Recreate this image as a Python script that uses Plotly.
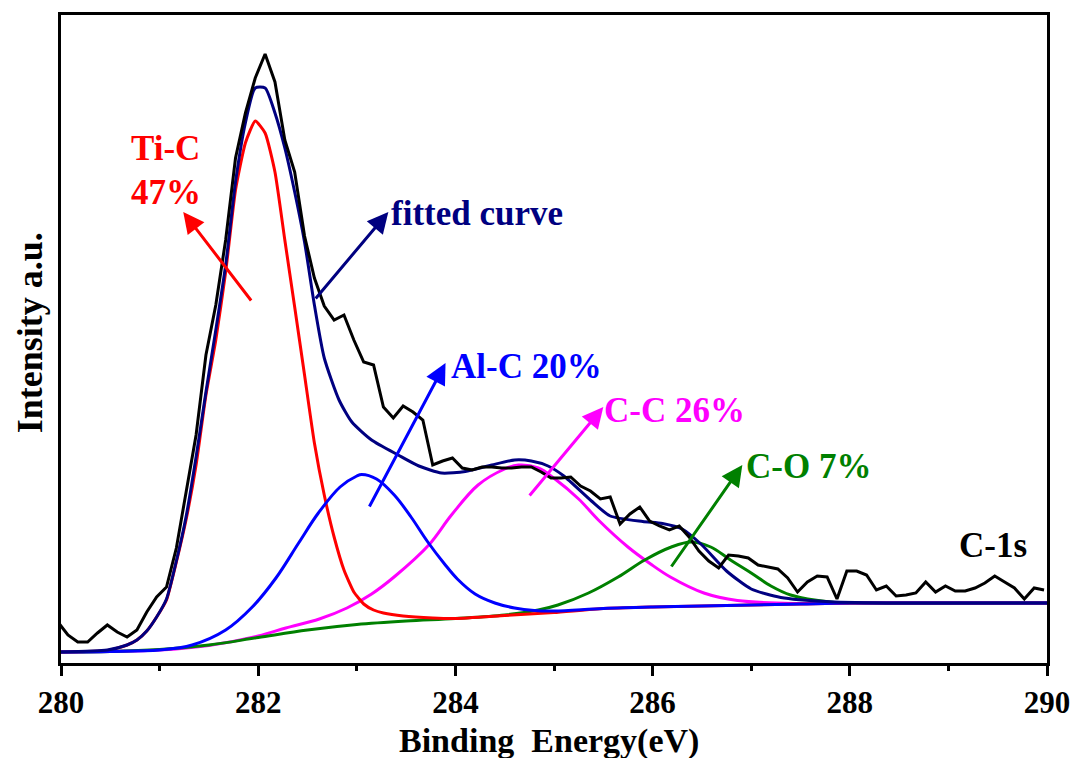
import plotly.graph_objects as go

# ---------------- data (binding energy in eV, intensity in a.u.) ----------------
raw_energy = [279.97, 280.07, 280.17, 280.27, 280.37, 280.47, 280.57, 280.67, 280.77, 280.87,
              280.97, 281.07, 281.17, 281.27, 281.37, 281.47, 281.57, 281.67, 281.77, 281.87,
              281.97, 282.07, 282.17, 282.27, 282.37, 282.47, 282.57, 282.67, 282.77, 282.87,
              282.97, 283.07, 283.17, 283.27, 283.37, 283.47, 283.57, 283.67, 283.77, 283.87,
              283.97, 284.07, 284.17, 284.27, 284.37, 284.47, 284.57, 284.67, 284.77, 284.87,
              284.97, 285.07, 285.17, 285.27, 285.37, 285.47, 285.57, 285.67, 285.77, 285.87,
              285.97, 286.07, 286.17, 286.27, 286.37, 286.47, 286.57, 286.67, 286.77, 286.87,
              286.97, 287.07, 287.17, 287.27, 287.37, 287.47, 287.57, 287.67, 287.77, 287.87,
              287.97, 288.07, 288.17, 288.27, 288.37, 288.47, 288.57, 288.67, 288.77, 288.87,
              288.97, 289.07, 289.17, 289.27, 289.37, 289.47, 289.57, 289.67, 289.77, 289.87,
              289.97]
raw_intensity = [41, 28, 21, 21, 30, 38, 31, 26, 33, 51,
                 66, 76, 115, 173, 228, 308, 358, 423, 505, 550,
                 585, 609, 581, 523, 491, 427, 385, 357, 343, 348,
                 323, 301, 298, 256, 245, 257, 251, 243, 198, 202,
                 205, 195, 193, 196, 196, 195, 195, 196, 196, 191,
                 185, 185, 186, 177, 172, 164, 166, 139, 149, 156,
                 142, 137, 133, 137, 126, 112, 102, 95, 108, 107,
                 105, 98, 96, 94, 85, 71, 81, 87, 86, 64,
                 92, 92, 88, 73, 77, 67, 68, 70, 81, 71,
                 77, 72, 72, 75, 80, 87, 81, 75, 64, 75,
                 73]

tic_energy = [279.97, 280.47, 280.67, 280.77, 280.87, 280.97, 281.07, 281.17, 281.27, 281.37,
              281.47, 281.57, 281.67, 281.77, 281.87, 281.97, 282.07, 282.17, 282.27, 282.37,
              282.47, 282.57, 282.67, 282.77, 282.87, 282.97, 283.07, 283.17, 283.27, 283.47,
              283.77, 284.0, 284.5, 285.0, 285.5, 286.0, 286.5, 287.0, 287.5, 288.0, 289.0, 290.0]
tic_intensity = [11, 12.5, 18, 23, 32, 46, 63, 101, 144, 198,
                 268, 323, 391, 473, 520, 542, 530, 491, 423, 356,
                 288, 220, 168, 126, 93, 71, 59, 53, 50, 47,
                 45, 44.5, 47.5, 50.5, 54.5, 56, 57, 58, 59, 60, 60, 60]

alc_energy = [280.0, 280.5, 281.0, 281.33, 281.67, 281.94, 282.18, 282.41, 282.61, 282.83,
              283.0, 283.05, 283.2, 283.38, 283.55, 283.72, 283.89, 284.02, 284.2, 284.4,
              284.6, 284.8, 285.0, 285.5, 286.0, 286.5, 287.0, 287.5, 288.0, 290.0]
alc_intensity = [11, 11.5, 13, 18, 33, 56, 85, 120, 150, 176,
                 187, 188.5, 184, 168, 146, 121, 99, 84, 69, 60,
                 55, 52.5, 52, 54.5, 56, 57, 58, 59, 60, 60]

cc_energy = [280.0, 281.0, 281.5, 282.0, 282.28, 282.62, 282.9, 283.15, 283.39, 283.73,
             283.96, 284.23, 284.5, 284.64, 284.84, 285.01, 285.25, 285.45, 285.75, 285.98,
             286.18, 286.52, 286.86, 287.47, 288.0, 290.0]
cc_intensity = [11, 13, 17.5, 27, 35, 44, 55, 69, 87, 118,
                148, 178, 194, 198, 195, 184, 164, 143, 116, 99,
                86, 70, 62.5, 59.5, 60, 60]

co_energy = [280.0, 280.5, 281.0, 281.5, 282.0, 282.5, 283.0, 283.5, 284.0, 284.5,
             284.84, 285.04, 285.35, 285.65, 285.92, 286.19, 286.39, 286.59, 286.79, 287.0,
             287.2, 287.4, 287.8, 288.2, 290.0]
co_intensity = [11, 11.5, 13.5, 18, 25.5, 33, 38.5, 42, 44.5, 48,
                53, 58, 70, 86, 103, 116, 121, 116, 103, 90,
                77, 68, 61, 60, 60]

fit_energy = [279.97, 280.47, 280.67, 280.77, 280.87, 280.97, 281.07, 281.17, 281.27, 281.37,
              281.47, 281.57, 281.67, 281.77, 281.87, 281.97, 282.07, 282.17, 282.27, 282.37,
              282.47, 282.57, 282.67, 282.82, 282.95, 283.15, 283.42, 283.63, 283.86, 284.1,
              284.37, 284.6, 284.77, 284.94, 285.1, 285.38, 285.57, 285.9, 286.1, 286.3,
              286.5, 286.75, 287.0, 287.3, 287.8, 288.5, 290.0]
fit_intensity = [11, 13, 18, 23, 32, 46, 64, 102, 147, 206,
                 271, 333, 398, 481, 540, 575, 575, 550, 515, 471,
                 421, 358, 305, 263, 241, 223, 208, 197, 190, 191.5,
                 198, 203, 202, 197, 187, 162, 147, 141.5, 139.5, 134,
                 118, 92, 74, 65.5, 61.3, 60, 60]

x_ticks = [280, 282, 284, 286, 288, 290]

# labels: (text, x, y, colour) ; arrows: (tail x, tail y, tip x, tip y, colour)
label_texts = ["Ti-C", "47%", "fitted curve", "Al-C 20%", "C-C 26%", "C-O 7%", "C-1s"]
label_x = [280.69, 280.69, 283.33, 283.93, 285.49, 286.93, 289.09]
label_y = [515, 471, 450, 297, 253, 197, 118]
label_colors = ["#FF0000", "#FF0000", "#000080", "#0000FF", "#FF00FF", "#008000", "#000000"]

arrow_tail_x = [281.94, 282.57, 283.12, 284.74, 286.18]
arrow_tail_y = [361, 363, 155, 166, 95]
arrow_tip_x = [281.24, 283.32, 283.90, 285.50, 286.91]
arrow_tip_y = [451, 451, 300, 256, 198]
arrow_colors = ["#FF0000", "#000080", "#0000FF", "#FF00FF", "#008000"]

FONT = "Liberation Serif"

fig = go.Figure()
# drawing order: C-C, C-O, Ti-C, Al-C, fit, raw
fig.add_trace(go.Scatter(x=cc_energy, y=cc_intensity, mode="lines",
                         line=dict(color="#FF00FF", width=3, shape="spline", smoothing=1.0)))
fig.add_trace(go.Scatter(x=co_energy, y=co_intensity, mode="lines",
                         line=dict(color="#008000", width=3, shape="spline", smoothing=1.0)))
fig.add_trace(go.Scatter(x=tic_energy, y=tic_intensity, mode="lines",
                         line=dict(color="#FF0000", width=3, shape="spline", smoothing=0.5)))
fig.add_trace(go.Scatter(x=alc_energy, y=alc_intensity, mode="lines",
                         line=dict(color="#0000FF", width=3, shape="spline", smoothing=1.0)))
fig.add_trace(go.Scatter(x=fit_energy, y=fit_intensity, mode="lines",
                         line=dict(color="#000080", width=3, shape="spline", smoothing=0.6)))
fig.add_trace(go.Scatter(x=raw_energy, y=raw_intensity, mode="lines",
                         line=dict(color="#000000", width=3)))

annotations = []
for t, x, y, c in zip(label_texts, label_x, label_y, label_colors):
    annotations.append(dict(text=t, x=x, y=y, xref="x", yref="y", showarrow=False,
                            xanchor="left", yanchor="middle",
                            font=dict(family=FONT, size=35, color=c, weight="bold")))
for tx, ty, hx, hy, c in zip(arrow_tail_x, arrow_tail_y, arrow_tip_x, arrow_tip_y, arrow_colors):
    annotations.append(dict(text="", x=hx, y=hy, xref="x", yref="y",
                            ax=tx, ay=ty, axref="x", ayref="y",
                            showarrow=True, arrowhead=2, arrowsize=1.4, arrowwidth=3,
                            arrowcolor=c, standoff=0, startstandoff=0))
annotations.append(dict(text="Intensity a.u.", x=-0.0313, y=0.509, xref="paper", yref="paper",
                        textangle=-90, showarrow=False, xanchor="center", yanchor="middle",
                        font=dict(family=FONT, size=36, color="black", weight="bold")))
annotations.append(dict(text="Binding\u00a0\u00a0Energy(eV)", x=0.495, y=-0.1205,
                        xref="paper", yref="paper", showarrow=False,
                        xanchor="center", yanchor="middle",
                        font=dict(family=FONT, size=34, color="black", weight="bold")))

fig.update_layout(
    width=1082, height=758,
    margin=dict(l=61, r=31, t=15, b=95),
    paper_bgcolor="white", plot_bgcolor="white",
    showlegend=False,
    annotations=annotations,
    xaxis=dict(range=[280, 290], tickvals=x_ticks, ticktext=[str(v) for v in x_ticks],
               ticks="outside", ticklen=10, tickwidth=3, tickcolor="black",
               showline=True, linewidth=3, linecolor="black", mirror=True,
               showgrid=False, zeroline=False,
               tickfont=dict(family=FONT, size=31, color="black", weight="bold"),
               minor=dict(ticks="outside", ticklen=5, tickwidth=2.5, tickcolor="black",
                          tick0=280, dtick=1, showgrid=False)),
    yaxis=dict(range=[0, 648], showticklabels=False, ticks="",
               showline=True, linewidth=3, linecolor="black", mirror=True,
               showgrid=False, zeroline=False),
)

fig.write_html("out.html")
